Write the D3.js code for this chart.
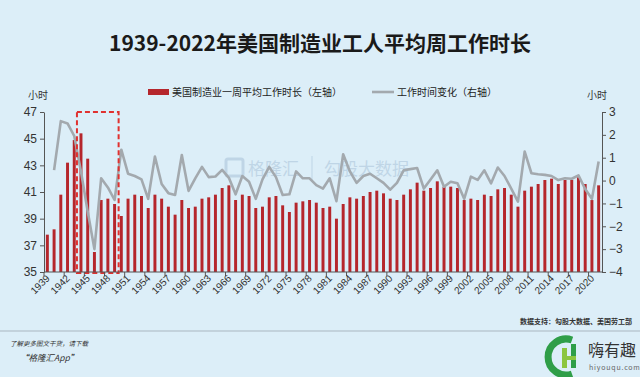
<!DOCTYPE html>
<html>
<head>
<meta charset="utf-8">
<script src="https://cdn.jsdelivr.net/npm/d3@7"></script>
<style>
  body { margin: 0; background: #dceef8; }
  svg { display: block; font-family: "Noto Sans CJK SC", "Noto Sans", sans-serif; }
  .axis text { font-family: "Liberation Sans", Arial, sans-serif; fill: #333; }
  .axis path, .axis line { stroke: #555; }
</style>
</head>
<body>
<div id="chart"></div>
<script>
const years = [1939,1940,1941,1942,1943,1944,1945,1946,1947,1948,1949,1950,1951,1952,1953,1954,1955,1956,1957,1958,
  1959,1960,1961,1962,1963,1964,1965,1966,1967,1968,1969,1970,1971,1972,1973,1974,1975,1976,1977,1978,
  1979,1980,1981,1982,1983,1984,1985,1986,1987,1988,1989,1990,1991,1992,1993,1994,1995,1996,1997,1998,
  1999,2000,2001,2002,2003,2004,2005,2006,2007,2008,2009,2010,2011,2012,2013,2014,2015,2016,2017,2018,
  2019,2020,2021];

// weekly hours, left axis
const hours = [37.8,38.2,40.8,43.2,44.9,45.4,43.5,36.5,40.4,40.5,40.1,39.2,40.5,40.8,40.7,39.8,40.8,40.5,39.9,39.3,
  40.4,39.8,39.9,40.5,40.6,40.8,41.3,41.5,40.4,40.8,40.7,39.8,39.9,40.6,40.7,40.0,39.5,40.2,40.3,40.4,
  40.2,39.8,39.9,39.0,40.1,40.6,40.5,40.7,41.0,41.1,40.9,40.5,40.4,40.8,41.2,41.7,41.1,41.3,41.8,41.4,
  41.4,41.3,40.4,40.5,40.4,40.8,40.7,41.2,41.3,40.8,39.9,41.1,41.4,41.6,41.9,42.0,41.6,41.9,41.9,42.1,
  41.6,40.4,41.5];

// change in hours, right axis (from 1940)
const changeYears = years.slice(1);
const change = [0.46,2.6,2.5,1.95,0.4,-1.35,-3.0,0.1,-0.3,-0.85,1.35,0.3,0.2,0.05,-0.8,1.05,-0.15,-0.55,-0.63,1.12,
  -0.45,0.1,0.6,0.15,0.18,0.47,0.12,-0.6,0.2,-0.05,-0.8,0.05,0.6,0.15,-0.63,-0.6,0.4,0.1,0.1,-0.2,
  -0.35,0.1,-0.9,1.15,0.4,-0.1,0.2,0.3,0.1,-0.1,-0.4,-0.1,0.45,0.5,0.55,-0.35,0.05,0.45,-0.27,-0.05,
  -0.12,-0.8,0.17,0.03,0.45,-0.12,0.57,0.2,-0.35,-0.92,1.27,0.32,0.28,0.25,0.2,0.02,0.1,0.08,0.23,-0.37,
  -0.8,0.83];

const leftTicks = [35,37,39,41,43,45,47];
const rightTicks = [-4,-3,-2,-1,0,1,2,3];
const labelYears = years.filter((d, i) => i % 3 === 0);

const W = 640, H = 377;
const plot = { left: 44, right: 602, top: 112, bottom: 272 };

const svg = d3.select("#chart").append("svg")
  .attr("width", W)
  .attr("height", H);

svg.append("rect").attr("width", W).attr("height", H).attr("fill", "#dceef8");

// title
svg.append("text")
  .attr("x", 320).attr("y", 51)
  .attr("text-anchor", "middle")
  .attr("font-size", 21).attr("font-weight", "bold").attr("fill", "#1a1a1a")
  .text("1939-2022年美国制造业工人平均周工作时长");

// watermark
const wm = svg.append("g").attr("opacity", 0.3).attr("fill", "#7f9fbf");
wm.append("rect").attr("x", 226).attr("y", 159).attr("width", 17).attr("height", 17).attr("rx", 2)
  .attr("fill", "none").attr("stroke", "#7f9fbf").attr("stroke-width", 3);
wm.append("text").attr("x", 248).attr("y", 175).attr("font-size", 17).text("格隆汇");
wm.append("line").attr("x1", 312).attr("x2", 312).attr("y1", 156).attr("y2", 182)
  .attr("stroke", "#7f9fbf").attr("stroke-width", 1);
wm.append("text").attr("x", 324).attr("y", 175).attr("font-size", 17).text("勾股大数据");

const x = d3.scaleBand()
  .domain(years)
  .range([plot.left, plot.right])
  .paddingInner(0.56)
  .paddingOuter(0.28);

const yL = d3.scaleLinear().domain([35, 47]).range([plot.bottom, plot.top]);
const yR = d3.scaleLinear().domain([-4, 3]).range([plot.bottom, plot.top]);

// bars
svg.append("g")
  .selectAll("rect")
  .data(years)
  .enter()
    .append("rect")
      .attr("x", (d) => x(d))
      .attr("width", x.bandwidth())
      .attr("y", (d, i) => yL(hours[i]))
      .attr("height", (d, i) => plot.bottom - yL(hours[i]))
      .attr("fill", "#b5262c");

// change line
const line = d3.line()
  .x((d, i) => x(changeYears[i]) + x.bandwidth() / 2)
  .y((d) => yR(d));

svg.append("path")
  .datum(change)
  .attr("d", line)
  .attr("fill", "none")
  .attr("stroke", "#a3a9ae")
  .attr("stroke-width", 2.6)
  .attr("stroke-linejoin", "round");

// dashed highlight box 1944-1949
const step = x.step();
const cx = (d) => x(d) + x.bandwidth() / 2;
svg.append("rect")
  .attr("x", cx(1944) - step * 0.6)
  .attr("y", plot.top)
  .attr("width", cx(1949) - cx(1944) + step * 1.2)
  .attr("height", plot.bottom - plot.top + 1)
  .attr("fill", "none")
  .attr("stroke", "#e0312f")
  .attr("stroke-width", 2)
  .attr("stroke-dasharray", "5,3");

// left axis
const axL = svg.append("g")
  .attr("class", "axis")
  .attr("transform", "translate(" + plot.left + ",0)")
  .call(d3.axisLeft(yL).tickValues(leftTicks).tickSize(4).tickSizeOuter(0));
axL.selectAll("text").attr("font-size", 12);

// right axis
const axR = svg.append("g")
  .attr("class", "axis")
  .attr("transform", "translate(" + plot.right + ",0)")
  .call(d3.axisRight(yR).tickValues(rightTicks).tickFormat(d3.format("d")).tickSize(4).tickSizeOuter(0));
axR.selectAll("text").attr("font-size", 12);

// bottom axis: ticks between categories every 3 years
const axB = svg.append("g").attr("class", "axis");
axB.append("line")
  .attr("x1", plot.left).attr("x2", plot.right)
  .attr("y1", plot.bottom).attr("y2", plot.bottom)
  .attr("stroke", "#555");
axB.selectAll(".tk")
  .data(labelYears)
  .enter()
    .append("line")
      .attr("x1", (d) => cx(d) - step / 2)
      .attr("x2", (d) => cx(d) - step / 2)
      .attr("y1", plot.bottom).attr("y2", plot.bottom + 4)
      .attr("stroke", "#555");
axB.selectAll(".lb")
  .data(labelYears)
  .enter()
    .append("text")
      .attr("transform", (d) => "translate(" + (cx(d) + 3) + "," + (plot.bottom + 7) + ") rotate(-45)")
      .attr("text-anchor", "end")
      .attr("font-size", 10)
      .text((d) => d);

// units
svg.append("text").attr("x", 28).attr("y", 99).attr("font-size", 10).attr("fill", "#333").text("小时");
svg.append("text").attr("x", 587).attr("y", 99).attr("font-size", 10).attr("fill", "#333").text("小时");

// legend
svg.append("rect").attr("x", 148).attr("y", 89).attr("width", 21).attr("height", 6).attr("fill", "#b5262c");
svg.append("text").attr("x", 172).attr("y", 96).attr("font-size", 10).attr("fill", "#222")
  .text("美国制造业一周平均工作时长（左轴）");
svg.append("line").attr("x1", 372).attr("x2", 394).attr("y1", 92).attr("y2", 92)
  .attr("stroke", "#a3a9ae").attr("stroke-width", 2.6);
svg.append("text").attr("x", 397).attr("y", 96).attr("font-size", 10).attr("fill", "#222")
  .text("工作时间变化（右轴）");

// source + footer
svg.append("text").attr("x", 632).attr("y", 324).attr("text-anchor", "end")
  .attr("font-size", 7).attr("font-weight", "bold").attr("fill", "#333")
  .text("数据支持：勾股大数据、美国劳工部");
svg.append("line").attr("x1", 0).attr("x2", 640).attr("y1", 331).attr("y2", 331)
  .attr("stroke", "#a9b6c0").attr("stroke-width", 1);
svg.append("text").attr("x", 10).attr("y", 346).attr("font-size", 6.5).attr("font-style", "italic").attr("fill", "#333")
  .text("了解更多图文干货，请下载");
svg.append("text").attr("x", 20).attr("y", 361).attr("font-size", 8.5).attr("font-style", "italic").attr("fill", "#333")
  .text("“格隆汇App”");

// corner logo
const lg = svg.append("g");
lg.append("path").attr("d", "M572,340 A18,18 0 1 0 572,374").attr("fill", "none")
  .attr("stroke", "#2f9e48").attr("stroke-width", 7);
lg.append("rect").attr("x", 562).attr("y", 348).attr("width", 5).attr("height", 20).attr("fill", "#8cc63f");
lg.append("rect").attr("x", 571).attr("y", 344).attr("width", 5).attr("height", 24).attr("fill", "#2f9e48");
lg.append("rect").attr("x", 562).attr("y", 356).attr("width", 14).attr("height", 4).attr("fill", "#8cc63f");
lg.append("text").attr("x", 588).attr("y", 356).attr("font-size", 16).attr("fill", "#333").text("嗨有趣");
lg.append("text").attr("x", 589).attr("y", 370).attr("font-size", 7).attr("fill", "#666")
  .attr("letter-spacing", 0.8).text("hiyouqu.com");
</script>
</body>
</html>
